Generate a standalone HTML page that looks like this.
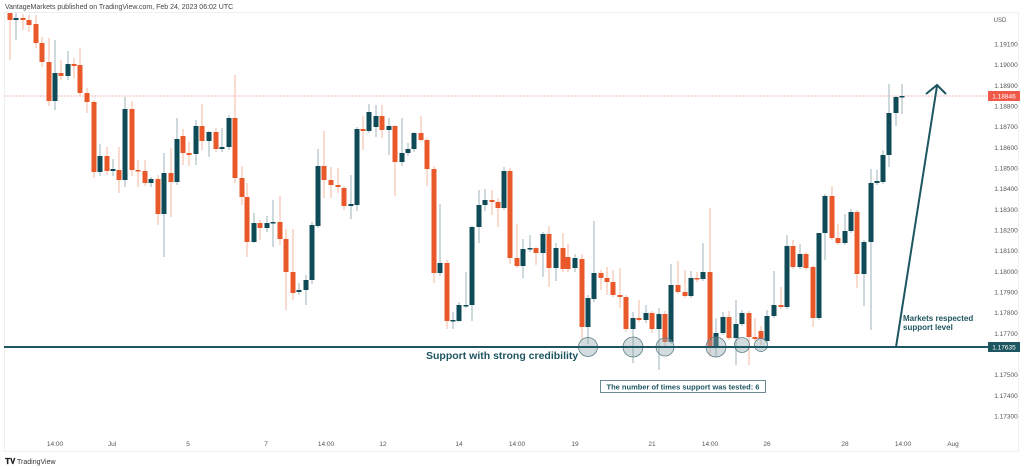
<!DOCTYPE html>
<html><head><meta charset="utf-8"><style>
html,body{margin:0;padding:0;background:#fff;width:1024px;height:469px;overflow:hidden}
svg{display:block;font-family:"Liberation Sans",sans-serif}
</style></head><body>
<svg id="s" width="1024" height="469" viewBox="0 0 1024 469">
<rect x="0" y="0" width="1024" height="469" fill="#fff"/>
<text x="5" y="9" font-size="7" fill="#444">VantageMarkets published on TradingView.com, Feb 24, 2023 06:02 UTC</text>
<rect x="4.5" y="12.5" width="1014" height="439" fill="none" stroke="#eef0f3" stroke-width="1"/>
<line x1="4" y1="96" x2="988" y2="96" stroke="#f4a5a0" stroke-width="0.8" stroke-dasharray="2,1"/>
<g id="c"></g>
<g font-size="6.5" fill="#555" text-anchor="middle" id="ax"></g>
<g fill="#8fa7ad" fill-opacity="0.4" stroke="#5e7f86" stroke-width="0.8">
<circle cx="588" cy="347" r="9.5"/><circle cx="633" cy="347" r="10"/><circle cx="665" cy="347" r="9"/>
<circle cx="716" cy="347" r="10"/><circle cx="742" cy="345" r="7.5"/><circle cx="761" cy="345" r="6.5"/>
</g>
<line x1="4" y1="347" x2="988" y2="347" stroke="#1d5560" stroke-width="2"/>
<rect x="988" y="342" width="32" height="10" fill="#1d5560"/>
<text x="1004" y="349.5" font-size="6.5" fill="#fff" text-anchor="middle">1.17635</text>
<rect x="988" y="91" width="32" height="10" fill="#f0584a"/>
<text x="1004" y="98.5" font-size="6.5" fill="#fff" text-anchor="middle">1.18846</text>
<line x1="896" y1="347" x2="937" y2="86" stroke="#1d5560" stroke-width="2"/>
<polyline points="926,94 937,85 946,94" fill="none" stroke="#1d5560" stroke-width="2"/>
<text x="903" y="321" font-size="8" font-weight="bold" fill="#1d5560">Markets respected</text>
<text x="903" y="330" font-size="8" font-weight="bold" fill="#1d5560">support level</text>
<text x="426" y="359" font-size="10.5" font-weight="bold" fill="#1d5560">Support with strong credibility</text>
<rect x="600.5" y="380.5" width="165" height="12" fill="#fff" stroke="#6b8c92" stroke-width="1"/>
<text x="683" y="389.5" font-size="7.5" font-weight="bold" fill="#1d5560" text-anchor="middle">The number of times support was tested: 6</text>
<text x="5" y="464" font-size="8" font-weight="bold" fill="#222">𝐓𝐕</text>
<text x="17" y="464" font-size="7" fill="#333">TradingView</text>
</svg>
<script>
var d=[
[10,13,20,13,60,0],[16,18,20,13,40,1],[23,18,20,14,30,0],[29,20,25,15,32,0],[36,24,43,15,48,0],[42,43,62,37,67,0],
[49,62,101,38,106,0],[55,73,101,40,110,1],[61,73,76,60,80,0],[68,64,76,51,80,1],[74,64,66,58,78,0],[80,65,93,48,96,0],
[87,93,102,88,113,0],[94,102,172,100,178,0],[100,156,172,144,176,1],[107,156,171,147,175,0],[113,169,171,159,176,1],
[119,170,180,147,193,0],[125,109,180,97,187,1],[132,109,170,101,176,0],[138,170,171,160,187,0],[145,171,183,160,186,0],
[151,179,183,177,187,1],[158,179,214,175,225,0],[164,173,214,153,257,1],[171,173,182,148,217,0],[177,139,182,118,185,1],
[183,136,153,129,165,0],[189,153,155,142,166,0],[196,126,154,120,165,1],[202,126,141,104,150,0],[209,132,141,131,157,1],
[216,132,149,128,152,0],[222,147,149,128,152,1],[229,118,147,115,150,1],[235,118,178,75,183,0],[242,178,197,166,205,0],
[247,197,242,183,257,0],[254,223,242,213,243,1],[260,223,228,220,240,0],[267,223,228,216,232,1],[273,222,223,200,247,1],
[280,222,239,196,245,0],[286,239,272,229,310,0],[293,272,293,229,300,0],[299,290,292,283,295,1],[306,280,290,275,305,1],
[312,225,280,222,284,1],[318,166,226,149,228,1],[324,166,180,131,198,0],[331,180,185,167,198,0],[338,185,187,168,193,0],
[344,188,206,186,210,0],[351,204,206,175,219,1],[357,129,205,127,211,1],[363,129,131,116,150,0],[369,112,131,104,133,1],
[376,116,127,105,137,1],[382,116,130,105,138,0],[389,126,130,118,155,1],[395,126,162,125,196,0],[402,153,162,118,166,1],
[408,149,153,143,156,1],[414,133,149,132,152,1],[421,133,140,116,142,0],[427,140,169,138,186,0],[434,169,273,166,283,0],
[440,263,273,204,276,1],[447,263,321,260,329,0],[453,320,321,312,329,1],[459,305,321,302,322,1],[466,305,306,272,308,1],
[472,227,305,226,321,1],[479,205,227,190,243,1],[485,200,205,189,211,1],[492,200,202,190,215,0],[498,202,208,198,227,0],
[504,171,208,167,210,1],[510,171,258,168,264,0],[517,258,266,224,268,0],[523,249,266,239,278,1],[530,248,249,235,252,1],
[536,248,253,247,265,0],[543,234,253,232,277,1],[549,234,268,226,287,0],[556,248,268,243,281,1],[563,248,269,233,272,0],
[568,257,269,244,272,0],[575,258,268,254,272,1],[582,259,327,254,340,0],[588,298,327,295,344,1],[594,273,299,221,302,1],
[601,273,278,270,290,0],[607,278,282,267,295,0],[613,282,295,270,297,0],[620,295,297,268,308,0],[626,297,329,295,332,0],
[633,318,329,312,363,1],[639,318,320,300,322,0],[646,313,320,305,323,1],[652,313,329,311,333,0],[659,314,329,308,370,1],
[665,314,342,311,348,0],[671,285,342,264,344,1],[678,285,292,261,294,0],[685,292,296,270,298,0],[691,278,296,271,298,1],
[697,278,279,272,282,0],[703,272,279,243,281,1],[710,272,348,208,357,0],[716,333,348,318,357,1],[723,317,333,312,335,1],
[729,317,338,311,340,0],[736,324,338,300,365,1],[742,313,324,310,326,1],[749,313,337,311,365,0],[755,337,339,318,341,0],
[761,331,339,326,345,0],[767,316,341,310,343,1],[774,305,316,271,318,1],[781,305,307,287,309,0],[787,246,307,235,309,1],
[793,246,267,240,269,0],[800,254,267,244,269,1],[806,254,268,252,270,0],[813,267,318,265,327,0],[819,233,318,245,320,1],
[825,196,233,194,260,1],[832,196,238,186,240,0],[838,238,243,224,245,0],[845,231,243,214,245,1],[851,212,231,209,233,1],
[857,212,274,210,288,0],[864,242,274,240,306,1],[871,183,242,169,330,1],[877,181,183,170,185,1],[883,155,182,150,184,1],
[889,113,155,84,167,1],[896,97,113,96,126,1],[902,96,97,84,114,1]];
var ns="http://www.w3.org/2000/svg",g=document.getElementById("c"),h="";
d.forEach(function(c){var col=c[5]?"#0f4a57":"#e8582a",wc=c[5]?"#9bb3b8":"#f6b7a1";
h+='<line x1="'+c[0]+'" y1="'+c[3]+'" x2="'+c[0]+'" y2="'+c[4]+'" stroke="'+wc+'" stroke-width="1"/>';
h+='<rect x="'+(c[0]-2.5)+'" y="'+c[1]+'" width="5" height="'+Math.max(1.5,c[2]-c[1])+'" fill="'+col+'"/>';});
g.innerHTML=h;
var a="";
a+='<text x="1000" y="22" font-size="6">USD</text>';
for(var i=0;i<=18;i++){var p=(1.191-i*0.001).toFixed(5),y=44+i*20.67;
if(i==15)continue; a+='<text x="1006" y="'+(y+2.5)+'">'+p+'</text>';}
a+='<text x="1006" y="22"></text>';
var t=[[55,"14:00"],[112,"Jul"],[188,"5"],[266,"7"],[326,"14:00"],[383,"12"],[459,"14"],[517,"14:00"],[575,"19"],[652,"21"],[710,"14:00"],[767,"26"],[845,"28"],[903,"14:00"],[953,"Aug"]];
t.forEach(function(e){a+='<text x="'+e[0]+'" y="446">'+e[1]+'</text>';});
document.getElementById("ax").innerHTML=a;
</script>
</body></html>
